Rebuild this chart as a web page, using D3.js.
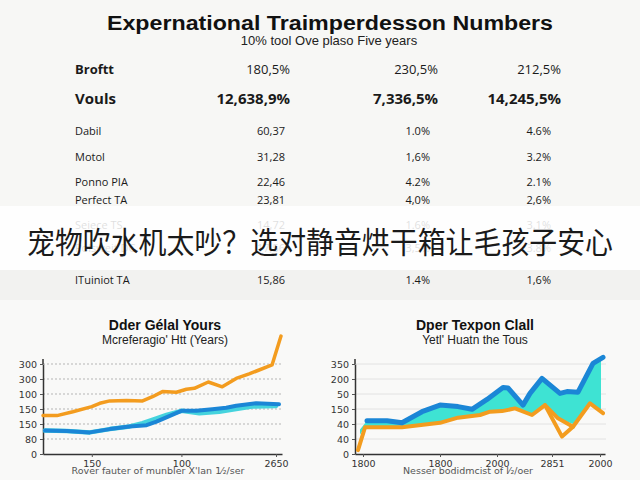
<!DOCTYPE html>
<html>
<head>
<meta charset="utf-8">
<script src="https://cdn.jsdelivr.net/npm/d3@7.9.0/dist/d3.min.js"></script>
<style>
  html, body { margin: 0; padding: 0; background: #f7f7f5; }
  svg { display: block; }
</style>
</head>
<body>
<div id="chart"></div>
<script>
// --- DATA ---
const title = 'Expernational Traimperdesson Numbers';
const subtitle = '10% tool Ove plaso Five years';
const overlayText = '宠物吹水机太吵？选对静音烘干箱让毛孩子安心';

const rowLabels = ['Broftt', 'Vouls', 'Dabil', 'Motol', 'Ponno PIA', 'Perfect TA', 'Seiece TS', 'Polsweit DC', 'ITuiniot TA'];
const col1 = ['180,5%', '12,638,9%', '60,37', '31,28', '22,46', '23,81', '14,72', '17,56', '15,86'];
const col2 = ['230,5%', '7,336,5%', '1.0%', '1,6%', '4.2%', '4,0%', '1.6%', '3,5%', '1.4%'];
const col3 = ['212,5%', '14,245,5%', '4.6%', '3.2%', '2.1%', '2,6%', '3.1%', '3.8%', '1,6%'];

// left chart
const leftTitle = 'Dder Gélal Yours';
const leftSub = "Mcreferagio' Htt (Years)";
const leftXTitle = "Rover fauter of munbler X'lan 1\u2044\u2082/ser";
const leftXTicks = [49, 139, 234];
const leftXLabels = ['150', '100', '2650'];
const leftYLabels = ['0', '80', '150', '150', '100', '300', '300'];
const lOrangeX = [0, 14, 30, 49, 57, 67, 84, 100, 110, 120, 134, 144, 152, 166, 180, 194, 207, 217, 230, 239];
const lOrangeY = [128, 128, 141, 158, 169, 177, 178, 177, 191, 208, 206, 216, 219, 240, 224, 252, 267, 280, 297, 393];
const lBlueX = [2, 24, 47, 67, 87, 104, 114, 125, 139, 154, 170, 184, 194, 214, 237];
const lBlueY = [78, 77, 72, 83, 92, 96, 108, 124, 144, 144, 149, 154, 161, 169, 166];
const lCyanX = [2, 24, 47, 67, 87, 100, 114, 124, 139, 157, 177, 194, 210, 234];
const lCyanY = [78, 77, 72, 83, 92, 103, 119, 130, 144, 136, 141, 150, 158, 160];

// right chart
const rightTitle = 'Dper Texpon Clall';
const rightSub = "Yetl' Huatn the Tous";
const rightXTitle = 'Nesser  bodidmcist of l\u2044\u2082/oer';
const rightXTicks = [8, 85, 142, 197, 245];
const rightXLabels = ['1800', '1800', '2000', '2851', '2000'];
const rightYLabels = ['0', '40', '40', '150', '50', '200', '350'];
const rBlueX = [12, 32, 47, 67, 85, 103, 117, 132, 148, 153, 168, 175, 187, 205, 212, 223, 238, 248];
const rBlueY = [111, 111, 104, 141, 163, 158, 149, 182, 222, 220, 163, 202, 252, 202, 208, 206, 302, 322];
const rOrangeX = [3, 10, 47, 85, 103, 125, 135, 147, 160, 177, 190, 207, 218, 235, 248];
const rOrangeY = [13, 89, 89, 104, 121, 130, 141, 143, 152, 130, 163, 58, 91, 169, 136];
const rOrangeBX = [190, 203, 218];
const rOrangeBY = [163, 119, 91];
const fillTopX = [5, 12, 32, 47, 67, 85, 103, 117, 132, 148, 153, 168, 175, 187, 205, 212, 223, 238, 246];
const fillTopY = [82, 111, 111, 104, 141, 163, 158, 149, 182, 222, 220, 163, 202, 252, 202, 208, 206, 302, 318];
const fillLowX = [246, 235, 218, 203, 190, 177, 160, 147, 135, 125, 103, 85, 47, 10, 5];
const fillLowY = [140, 169, 100, 119, 163, 130, 152, 143, 141, 130, 121, 104, 89, 89, 65];

// --- LAYOUT ---
const W = 640, H = 480;
const rowY = [69, 99, 131, 157.5, 182.5, 200.5, 225, 248, 280];
const bigColX = [290, 438, 561];
const smallColX = [285, 430, 551];
const ORANGE = '#f39c1f', BLUE = '#1b86d6', CYAN = '#45d3dd', FILL = '#3ee3d3';
const font = "'Liberation Sans', Arial, sans-serif";

const svg = d3.select('#chart').append('svg')
  .attr('width', W).attr('height', H)
  .style('font-family', font);

svg.append('rect').attr('width', W).attr('height', H).attr('fill', '#f7f7f5');
svg.append('rect').attr('y', 270).attr('width', W).attr('height', 30).attr('fill', '#f2f2f0');
svg.append('rect').attr('y', 300).attr('width', W).attr('height', 180).attr('fill', '#f9f9f8');

// header
svg.append('text').attr('x', 330).attr('y', 30).attr('text-anchor', 'middle')
  .attr('font-size', 20).attr('font-weight', 'bold').attr('fill', '#111')
  .attr('textLength', 446).attr('lengthAdjust', 'spacingAndGlyphs')
  .text(title);
svg.append('text').attr('x', 329).attr('y', 45).attr('text-anchor', 'middle')
  .attr('font-size', 13).attr('fill', '#222').text(subtitle);

// table
const rows = rowLabels.map((label, i) => ({ label, vals: [col1[i], col2[i], col3[i]], i }));
const rowG = svg.selectAll('g.row').data(rows).join('g').attr('class', 'row')
  .attr('transform', d => `translate(0,${rowY[d.i]})`)
  .style('font-family', "'Open Sans', 'Liberation Sans', sans-serif");

rowG.append('text').attr('x', 75).attr('dy', '0.35em')
  .attr('font-size', d => d.i === 0 ? 13 : d.i === 1 ? 15 : 11)
  .attr('font-weight', d => d.i < 2 ? 'bold' : 'normal')
  .attr('fill', '#1a1a1a')
  .text(d => d.label);

rowG.selectAll('text.val').data(d => d.vals.map((v, j) => ({ v, j, i: d.i })))
  .join('text').attr('class', 'val')
  .attr('x', d => (d.i < 2 ? bigColX : smallColX)[d.j])
  .attr('dy', '0.35em').attr('text-anchor', 'end')
  .attr('font-size', d => d.i === 0 ? 13 : d.i === 1 ? 15 : 11)
  .attr('font-weight', d => d.i === 1 ? 'bold' : 'normal')
  .attr('fill', '#1a1a1a')
  .text(d => d.v);

// overlay band
svg.append('rect').attr('y', 206).attr('width', W).attr('height', 64)
  .attr('fill', '#ffffff').attr('opacity', 0.86);
svg.append('text').attr('x', 320).attr('y', 253).attr('text-anchor', 'middle')
  .attr('font-family', "'Noto Sans CJK SC', sans-serif")
  .attr('font-size', 30).attr('fill', '#1a1a1a')
  .attr('textLength', 586).attr('lengthAdjust', 'spacingAndGlyphs')
  .text(overlayText);

// --- CHARTS ---
function drawChart(opt) {
  const x = d3.scaleLinear().domain(opt.xDomain).range(opt.xRange);
  const y = d3.scaleLinear().domain([0, 300]).range([454, 364]);
  const g = svg.append('g');

  g.append('text').attr('x', opt.cx).attr('y', 330).attr('text-anchor', 'middle')
    .attr('font-size', 14).attr('font-weight', 'bold').attr('fill', '#111').text(opt.title);
  g.append('text').attr('x', opt.cx).attr('y', 344).attr('text-anchor', 'middle')
    .attr('font-size', 12).attr('fill', '#222').text(opt.sub);

  // grid
  g.selectAll('line.grid').data([50, 100, 150, 200, 250, 300]).join('line')
    .attr('x1', opt.xRange[0]).attr('x2', opt.xRange[1] + 1)
    .attr('y1', d => y(d)).attr('y2', d => y(d))
    .attr('stroke', opt.dotted ? '#b5b5b5' : '#e2e2e2')
    .attr('stroke-width', 1)
    .attr('stroke-dasharray', opt.dotted ? '2,2' : null);

  const yAxis = d3.axisLeft(y).tickValues([0, 50, 100, 150, 200, 250, 300])
    .tickFormat((d, i) => opt.yLabels[i]).tickSize(3).tickSizeOuter(0);
  const xAxis = d3.axisBottom(x).tickValues(opt.xTicks)
    .tickFormat((d, i) => opt.xLabels[i]).tickSize(3).tickSizeOuter(0);

  const ya = g.append('g').attr('transform', `translate(${opt.xRange[0]},0)`).call(yAxis);
  const xa = g.append('g').attr('transform', 'translate(0,454)').call(xAxis);
  [ya, xa].forEach(a => {
    a.selectAll('text').attr('fill', '#333')
      .attr('font-family', "'DejaVu Sans', sans-serif").style('font-size', '9.5px');
    a.select('.domain').attr('stroke', '#333').attr('stroke-width', 1.5);
    a.selectAll('.tick line').attr('stroke', '#555');
  });
  // extend y axis line a little above the top tick
  g.append('line').attr('x1', opt.xRange[0]).attr('x2', opt.xRange[0])
    .attr('y1', 359).attr('y2', 364).attr('stroke', '#333').attr('stroke-width', 1.5);

  g.append('text').attr('x', opt.cx - 7).attr('y', 474).attr('text-anchor', 'middle')
    .attr('fill', '#555')
    .attr('font-family', "'DejaVu Sans', sans-serif").style('font-size', '9.5px')
    .text(opt.xTitle);

  const line = d3.line().x(d => x(d[0])).y(d => y(d[1]));
  opt.series.forEach(s => {
    const pts = s.xs.map((v, i) => [v, s.ys[i]]);
    if (s.fill) {
      g.append('path').attr('d', line(pts) + 'Z').attr('fill', s.fill).attr('stroke', 'none');
    } else {
      g.append('path').attr('d', line(pts)).attr('fill', 'none')
        .attr('stroke', s.color).attr('stroke-width', s.width)
        .attr('stroke-linejoin', 'round').attr('stroke-linecap', 'round');
    }
  });
}

drawChart({
  title: leftTitle, sub: leftSub, xTitle: leftXTitle, cx: 165, dotted: true,
  xDomain: [0, 240], xRange: [43, 282],
  xTicks: leftXTicks, xLabels: leftXLabels, yLabels: leftYLabels,
  series: [
    { xs: lOrangeX, ys: lOrangeY, color: ORANGE, width: 3.5 },
    { xs: lCyanX, ys: lCyanY, color: CYAN, width: 4.5 },
    { xs: lBlueX, ys: lBlueY, color: BLUE, width: 4 }
  ]
});

drawChart({
  title: rightTitle, sub: rightSub, xTitle: rightXTitle, cx: 475, dotted: false,
  xDomain: [0, 250], xRange: [355, 605],
  xTicks: rightXTicks, xLabels: rightXLabels, yLabels: rightYLabels,
  series: [
    { xs: fillTopX.concat(fillLowX), ys: fillTopY.concat(fillLowY), fill: FILL },
    { xs: rOrangeBX, ys: rOrangeBY, color: ORANGE, width: 4 },
    { xs: rOrangeX, ys: rOrangeY, color: ORANGE, width: 4 },
    { xs: rBlueX, ys: rBlueY, color: BLUE, width: 5 }
  ]
});
</script>
</body>
</html>
